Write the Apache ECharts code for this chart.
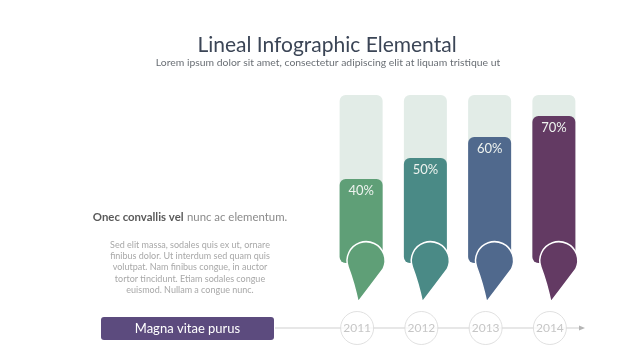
<!DOCTYPE html>
<html><head><meta charset="utf-8">
<script src="https://cdn.jsdelivr.net/npm/echarts@6/dist/echarts.min.js"></script>
<style>html,body{margin:0;padding:0;background:#fff}#c{width:640px;height:360px}</style>
</head><body><div id="c"></div>
<script>
const years = ['2011', '2012', '2013', '2014'];
const values = [40, 50, 60, 70];
const trackMax = [80, 80, 80, 80];
const colors = ['#5f9f77', '#4a8a86', '#50698d', '#633a63'];
const FONT = 'Lato';

const chart = echarts.init(document.getElementById('c'), null, {renderer: 'canvas'});

function dropItem(params, api) {
  const i = api.value(0);
  const p = api.coord([i, 0]);
  const cx = p[0], by = p[1];
  const d = 'M' + (cx - 3) + ' ' + (by + 39) +
    ' Q' + (cx - 7) + ' ' + (by + 20) + ' ' + (cx - 13) + ' ' + (by + 4) +
    ' A19 19 0 1 1 ' + (cx + 22) + ' ' + (by + 6) +
    ' Q' + (cx + 10) + ' ' + (by + 22) + ' ' + (cx - 3) + ' ' + (by + 39) + ' Z';
  return {
    type: 'path',
    shape: {pathData: d},
    style: {fill: colors[i], stroke: '#ffffff', lineWidth: 1.5}
  };
}

chart.setOption({
  animation: false,
  grid: [
    {left: 329, right: 54, top: 53, bottom: 97},
    {left: 325, right: 58, top: 312, height: 32}
  ],
  xAxis: [
    {type: 'category', data: years, gridIndex: 0, show: false},
    {type: 'category', data: years, gridIndex: 1, show: false}
  ],
  yAxis: [
    {type: 'value', min: 0, max: 100, gridIndex: 0, show: false},
    {type: 'value', min: 0, max: 1, gridIndex: 1, show: false}
  ],
  graphic: [
    {type: 'text', x: 327, y: 45, style: {text: 'Lineal Infographic Elemental', align: 'center', verticalAlign: 'middle', font: '21px ' + FONT, fill: '#3b4556'}},
    {type: 'text', x: 328, y: 63, style: {text: 'Lorem ipsum dolor sit amet, consectetur adipiscing elit at liquam tristique ut', align: 'center', verticalAlign: 'middle', font: '10.4px ' + FONT, fill: '#6a6f75'}},
    {type: 'text', x: 190, y: 217, style: {
      text: '{b|Onec convallis vel} {n|nunc ac elementum.}', align: 'center', verticalAlign: 'middle',
      rich: {b: {font: 'bold 11.4px ' + FONT, fill: '#5a5a5a'}, n: {font: '11.4px ' + FONT, fill: '#8a8a8a'}}
    }},
    {type: 'text', x: 190, y: 239, style: {
      text: 'Sed elit massa, sodales quis ex ut, ornare\nfinibus dolor. Ut interdum sed quam quis\nvolutpat. Nam finibus congue, in auctor\ntortor tincidunt. Etiam sodales congue\neuismod. Nullam a congue nunc.',
      align: 'center', font: '9px ' + FONT, lineHeight: 11.4, fill: '#a8a8a8'
    }},
    {type: 'line', z: 0, shape: {x1: 275, y1: 328, x2: 583, y2: 328}, style: {stroke: '#cfcfcf', lineWidth: 1}},
    {type: 'polygon', z: 0, shape: {points: [[585, 328], [579, 325.5], [579, 330.5]]}, style: {fill: '#b5b5b5'}},
    {type: 'rect', shape: {x: 101, y: 317, width: 173, height: 23, r: 3}, style: {fill: '#5c4b7e'}},
    {type: 'text', x: 187.5, y: 328.5, style: {text: 'Magna vitae purus', align: 'center', verticalAlign: 'middle', font: '13px ' + FONT, fill: '#ffffff'}}
  ],
  series: [
    {
      type: 'bar', xAxisIndex: 0, yAxisIndex: 0, data: trackMax, barWidth: 43, barGap: '-100%',
      itemStyle: {color: '#e2ece7', borderRadius: 6}, silent: true, z: 1
    },
    {
      type: 'bar', xAxisIndex: 0, yAxisIndex: 0, data: values, barWidth: 43,
      itemStyle: {color: p => colors[p.dataIndex], borderRadius: 6}, z: 2,
      label: {show: true, position: 'insideTop', distance: 5, formatter: '{c}%', color: '#eef3ef', fontSize: 13, fontFamily: FONT}
    },
    {
      type: 'custom', xAxisIndex: 0, yAxisIndex: 0, clip: false, z: 3,
      data: values.map((v, i) => [i, v]),
      renderItem: dropItem
    },
    {
      type: 'scatter', xAxisIndex: 1, yAxisIndex: 1, z: 3,
      data: years.map((y, i) => [i, 0.5]),
      symbol: 'circle', symbolSize: 33,
      itemStyle: {color: '#ffffff', borderColor: '#d8d8d8', borderWidth: 1},
      label: {show: true, position: 'inside', formatter: p => years[p.dataIndex], color: '#b8b8b8', fontSize: 12, fontFamily: FONT}
    }
  ]
});
</script></body></html>
